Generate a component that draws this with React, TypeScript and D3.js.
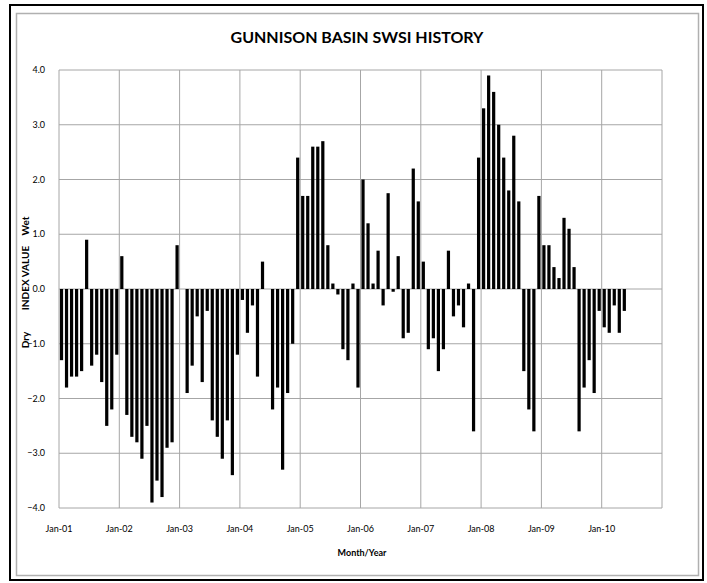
import React from "react";
import * as d3 from "d3";

const title = "GUNNISON BASIN SWSI HISTORY";
const xAxisTitle = "Month/Year";
const yLabels = ["Dry", "INDEX VALUE", "Wet"];
const yTicks = [-4, -3, -2, -1, 0, 1, 2, 3, 4];
const yearLabels = ["Jan-01", "Jan-02", "Jan-03", "Jan-04", "Jan-05", "Jan-06", "Jan-07", "Jan-08", "Jan-09", "Jan-10"];
const totalMonths = 120; // Jan-01 .. Dec-10 axis span

// Monthly SWSI values starting Jan-2001
const swsi2001 = [-1.3, -1.8, -1.6, -1.6, -1.5, 0.9, -1.4, -1.2, -1.7, -2.5, -2.2, -1.2];
const swsi2002 = [0.6, -2.3, -2.7, -2.8, -3.1, -2.5, -3.9, -3.5, -3.8, -2.9, -2.8, 0.8];
const swsi2003 = [0, -1.9, -1.4, -0.5, -1.7, -0.4, -2.4, -2.7, -3.1, -2.4, -3.4, -1.2];
const swsi2004 = [-0.2, -0.8, -0.3, -1.6, 0.5, 0, -2.2, -1.8, -3.3, -1.9, -1.0, 2.4];
const swsi2005 = [1.7, 1.7, 2.6, 2.6, 2.7, 0.8, 0.1, -0.1, -1.1, -1.3, 0.1, -1.8];
const swsi2006 = [2.0, 1.2, 0.1, 0.7, -0.3, 1.75, -0.05, 0.6, -0.9, -0.8, 2.2, 1.6];
const swsi2007 = [0.5, -1.1, -0.9, -1.5, -1.1, 0.7, -0.5, -0.3, -0.7, 0.1, -2.6, 2.4];
const swsi2008 = [3.3, 3.9, 3.6, 3.0, 2.4, 1.8, 2.8, 1.6, -1.5, -2.2, -2.6, 1.7];
const swsi2009 = [0.8, 0.8, 0.4, 0.2, 1.3, 1.1, 0.4, -2.6, -1.8, -1.3, -1.9, -0.4];
const swsi2010 = [-0.7, -0.8, -0.3, -0.8, -0.4];

const values = [
  ...swsi2001, ...swsi2002, ...swsi2003, ...swsi2004, ...swsi2005,
  ...swsi2006, ...swsi2007, ...swsi2008, ...swsi2009, ...swsi2010,
];

const W = 707;
const H = 583;
const plot = { left: 59, right: 662, top: 70, bottom: 508 };
const font = "Lato, 'Open Sans', sans-serif";

export default function App() {
  const x = d3.scaleLinear().domain([0, totalMonths]).range([plot.left, plot.right]);
  const y = d3.scaleLinear().domain([-4, 4]).range([plot.bottom, plot.top]);
  const slot = x(1) - x(0);
  const barW = slot * 0.64;
  const grid = "#a6a6a6";

  return (
    <svg width={W} height={H} style={{ position: "absolute", left: 0, top: 0, background: "#fff" }}>
      <rect x={0} y={0} width={W} height={H} fill="#fff" />
      <rect x={10} y={5} width={693} height={575} fill="none" stroke="#000" strokeWidth={2} />
      <rect x={16.5} y={13.5} width={682} height={562} fill="none" stroke="#b0b0b0" strokeWidth={1.5} />

      <text x={357} y={39} textAnchor="middle" dominantBaseline="middle" fontFamily={font} fontWeight="bold" fontSize={16} fill="#000">
        {title}
      </text>

      {/* horizontal gridlines */}
      {yTicks.map((t) => (
        <line key={"h" + t} x1={plot.left} x2={plot.right} y1={y(t)} y2={y(t)} stroke={grid} strokeWidth={1} />
      ))}
      {/* vertical gridlines at each January */}
      {d3.range(0, totalMonths + 1, 12).map((m) => (
        <line key={"v" + m} x1={x(m)} x2={x(m)} y1={plot.top} y2={plot.bottom} stroke={grid} strokeWidth={1} />
      ))}

      {/* bars */}
      {values.map((v, i) => {
        const cx = x(i) + slot / 2;
        const y0 = y(0);
        const yv = y(v);
        return (
          <rect
            key={"b" + i}
            x={cx - barW / 2}
            y={Math.min(y0, yv)}
            width={barW}
            height={Math.abs(yv - y0)}
            fill="#000"
          />
        );
      })}

      {/* y tick labels */}
      {yTicks.map((t) => (
        <text key={"yl" + t} x={45} y={y(t)} dy="0.35em" textAnchor="end" fontFamily={font} fontSize={9} fill="#000">
          {d3.format(".1f")(t)}
        </text>
      ))}

      {/* x tick labels */}
      {yearLabels.map((lab, k) => (
        <text key={"xl" + k} x={x(k * 12)} y={529} dy="0.35em" textAnchor="middle" fontFamily={font} fontSize={9} fill="#000">
          {lab}
        </text>
      ))}

      <text x={362} y={553} dy="0.35em" textAnchor="middle" fontFamily={font} fontWeight="bold" fontSize={9} fill="#000">
        {xAxisTitle}
      </text>

      {/* y axis title pieces */}
      <text transform={`translate(29,340) rotate(-90)`} textAnchor="middle" fontFamily={font} fontWeight="bold" fontSize={10} fill="#000">
        {yLabels[0]}
      </text>
      <text transform={`translate(29,278) rotate(-90)`} textAnchor="middle" fontFamily={font} fontWeight="bold" fontSize={10} fill="#000">
        {yLabels[1]}
      </text>
      <text transform={`translate(29,226) rotate(-90)`} textAnchor="middle" fontFamily={font} fontWeight="bold" fontSize={10} fill="#000">
        {yLabels[2]}
      </text>
    </svg>
  );
}
